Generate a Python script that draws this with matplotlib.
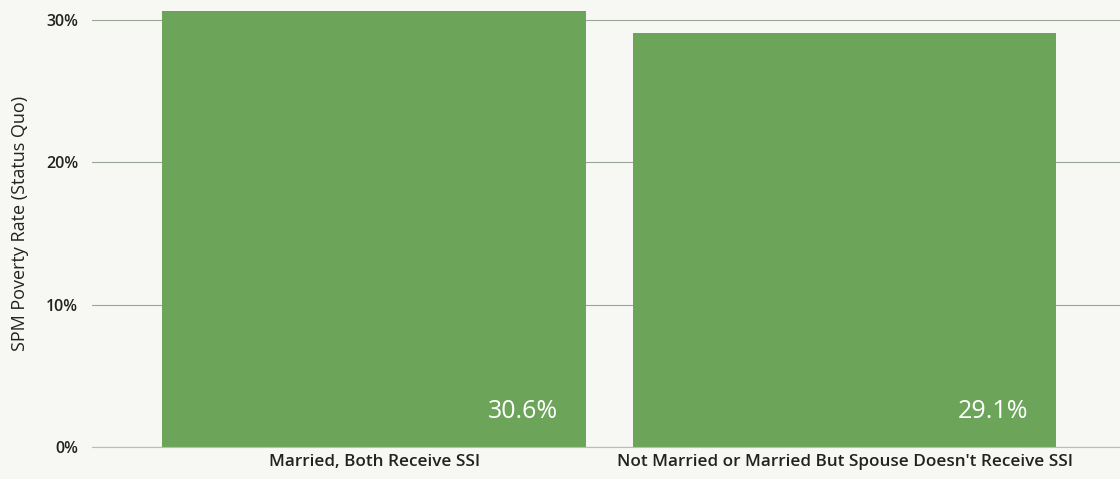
import matplotlib.pyplot as plt

# Data
categories = ["Married, Both Receive SSI",
              "Not Married or Married But Spouse Doesn't Receive SSI"]
poverty_rate = [30.6, 29.1]
bar_labels = ["30.6%", "29.1%"]
yticks = [0, 10, 20, 30]
ytick_labels = ["0%", "10%", "20%", "30%"]

plt.rcParams['font.family'] = ['Open Sans', 'DejaVu Sans']
bg = '#f7f8f4'

fig = plt.figure(figsize=(11.2, 4.79), dpi=100, facecolor=bg)
ax = fig.add_axes([0.082, 0.067, 0.918, 0.933], facecolor=bg)

x = range(len(categories))
bars = ax.bar(x, poverty_rate, width=0.9, color='#6ca55a', zorder=2)

# value labels inside bars, bottom right
for rect, lab in zip(bars, bar_labels):
    ax.text(rect.get_x() + rect.get_width() - 0.06, 2.5, lab,
            ha='right', va='center', color='white', fontsize=18)

ax.set_xlim(-0.6, 1.585)
ax.set_ylim(0, 31.4)
ax.set_xticks(list(x))
ax.set_xticklabels(categories, fontsize=12.3, color='#222222', fontweight='semibold')
ax.set_yticks(yticks)
ax.set_yticklabels(ytick_labels, fontsize=11.5, color='#222222', fontweight='semibold')
ax.set_ylabel('SPM Poverty Rate (Status Quo)', fontsize=13, color='#222222', labelpad=12)

ax.grid(axis='y', color='#9aa59a', linewidth=0.8, zorder=0)
for s in ['top', 'right', 'left']:
    ax.spines[s].set_visible(False)
ax.spines['bottom'].set_color('#bbbbbb')
ax.tick_params(length=0, pad=10)
ax.tick_params(axis='x', pad=5)

plt.savefig('out.png', dpi=100, facecolor=bg)
